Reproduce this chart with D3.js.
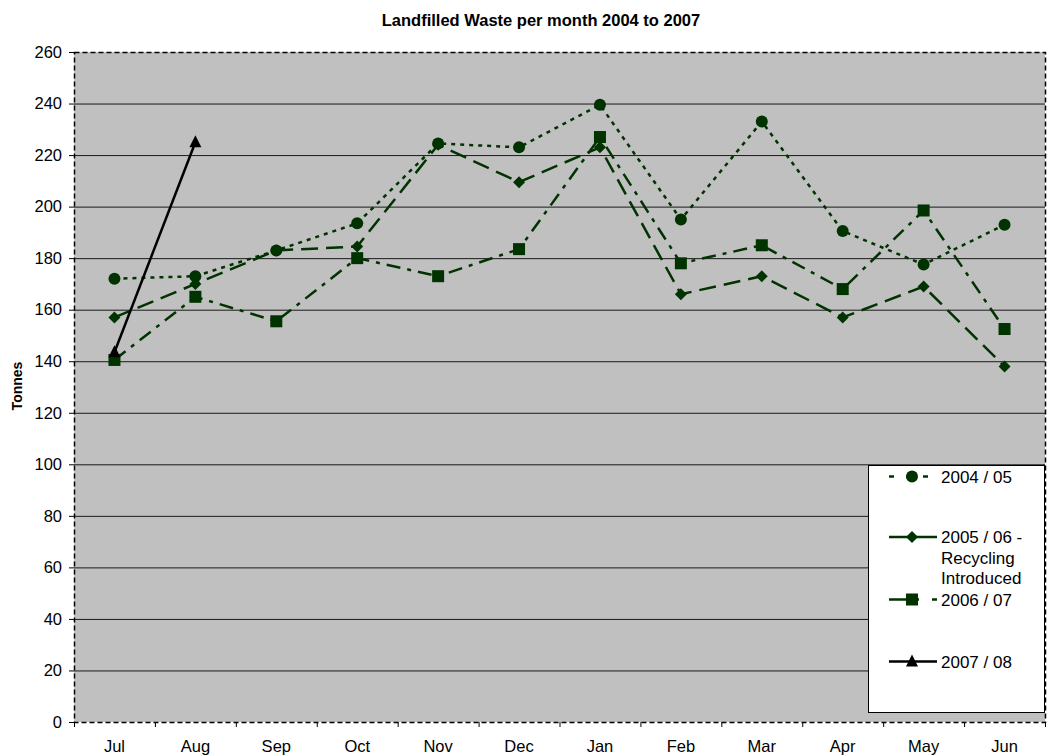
<!DOCTYPE html>
<html lang="en">
<head>
    <meta charset="utf-8">
    <title>Landfilled Waste per month 2004 to 2007</title>
    <script src="https://d3js.org/d3.v7.min.js"></script>
    <style>
        body { margin: 0; background: #fff; }
        text { font-family: "Liberation Sans", Arial, sans-serif; }
    </style>
</head>
<body>
    <svg id="chart" width="1051" height="756"></svg>
    <script>
        const months = ['Jul', 'Aug', 'Sep', 'Oct', 'Nov', 'Dec', 'Jan', 'Feb', 'Mar', 'Apr', 'May', 'Jun'];
        const yTicks = [0, 20, 40, 60, 80, 100, 120, 140, 160, 180, 200, 220, 240, 260];

        const waste0405 = [172, 173, 183, 193.5, 224.5, 223, 239.5, 195, 233, 190.5, 177.5, 193];
        const waste0506 = [157, 170, 183, 184.5, 224, 209.5, 223, 166, 173, 157, 169, 138];
        const waste0607 = [140.5, 165, 155.5, 180, 173, 183.5, 227, 178, 185, 168, 198.5, 152.5];
        const waste0708 = [143.5, 225];

        const seriesNames = [['2004 / 05'], ['2005 / 06 -', 'Recycling', 'Introduced'], ['2006 / 07'], ['2007 / 08']];

        const green = '#003300';
        const series = [
            { values: waste0405, color: green, dash: '4,5', legendDash: '5,12', marker: 'circle' },
            { values: waste0506, color: green, dash: '17,8', legendDash: null, marker: 'diamond' },
            { values: waste0607, color: green, dash: '14,7,4,7', legendDash: '30,13,6,20', marker: 'square' },
            { values: waste0708, color: '#000', dash: null, legendDash: null, marker: 'triangle' }
        ];

        const svg = d3.select('#chart');
        const plotLeft = 74, plotRight = 1045, plotTop = 52, plotBottom = 722;

        let x = d3.scaleBand().domain(months).range([plotLeft, plotRight]);
        let y = d3.scaleLinear().domain([0, 260]).range([plotBottom, plotTop]);

        // plot background
        svg.append('rect')
            .attr('x', plotLeft).attr('y', plotTop)
            .attr('width', plotRight - plotLeft).attr('height', plotBottom - plotTop)
            .attr('fill', '#c0c0c0');

        // gridlines
        svg.append('g')
            .selectAll('line')
            .data(yTicks.filter(d => d > 0 && d < 260))
            .enter()
            .append('line')
            .attr('x1', plotLeft).attr('x2', plotRight)
            .attr('y1', d => y(d) + 0.5).attr('y2', d => y(d) + 0.5)
            .attr('stroke', '#1a1a1a').attr('stroke-width', 1);

        // dashed plot border
        svg.append('rect')
            .attr('x', plotLeft + 0.5).attr('y', plotTop + 0.5)
            .attr('width', plotRight - plotLeft).attr('height', plotBottom - plotTop)
            .attr('fill', 'none').attr('stroke', '#000')
            .attr('stroke-width', 1.5).attr('stroke-dasharray', '5,3');

        // axes
        let yAxis = svg.append('g')
            .attr('transform', `translate(${plotLeft},0)`)
            .call(d3.axisLeft(y).tickValues(yTicks).tickSize(5).tickSizeOuter(0));
        yAxis.select('.domain').remove();
        yAxis.selectAll('text').attr('font-size', 16.5).attr('fill', '#000')
            .attr('font-family', '"Liberation Sans", Arial, sans-serif').attr('dx', -4);

        let xAxis = svg.append('g')
            .attr('transform', `translate(0,${plotBottom})`)
            .call(d3.axisBottom(x).tickSize(0));
        xAxis.select('.domain').remove();
        xAxis.selectAll('text').attr('font-size', 16.5).attr('fill', '#000')
            .attr('font-family', '"Liberation Sans", Arial, sans-serif')
            .attr('y', 30).attr('dy', 0);
        svg.append('g')
            .selectAll('line')
            .data(d3.range(months.length + 1))
            .enter()
            .append('line')
            .attr('x1', i => plotLeft + i * x.bandwidth() + 0.5)
            .attr('x2', i => plotLeft + i * x.bandwidth() + 0.5)
            .attr('y1', plotBottom).attr('y2', plotBottom + 5)
            .attr('stroke', '#000');

        // title and axis label
        svg.append('text')
            .attr('x', 541).attr('y', 26)
            .attr('text-anchor', 'middle')
            .attr('font-size', 16.5).attr('font-weight', 'bold')
            .text('Landfilled Waste per month 2004 to 2007');

        svg.append('text')
            .attr('transform', 'translate(22,386) rotate(-90)')
            .attr('text-anchor', 'middle')
            .attr('font-size', 14).attr('font-weight', 'bold')
            .text('Tonnes');

        function drawMarker(g, type, cx, cy, color) {
            if (type === 'circle') {
                g.append('circle').attr('cx', cx).attr('cy', cy).attr('r', 6).attr('fill', color);
            } else if (type === 'square') {
                g.append('rect').attr('x', cx - 6).attr('y', cy - 6)
                    .attr('width', 12).attr('height', 12).attr('fill', color);
            } else if (type === 'diamond') {
                g.append('path').attr('transform', `translate(${cx},${cy})`)
                    .attr('d', 'M0,-6L6,0L0,6L-6,0Z').attr('fill', color);
            } else if (type === 'triangle') {
                g.append('path').attr('transform', `translate(${cx},${cy})`)
                    .attr('d', 'M0,-7L6,5L-6,5Z').attr('fill', color);
            }
        }

        let line = d3.line()
            .x((d, i) => x(months[i]) + x.bandwidth() / 2)
            .y(d => y(d));

        for (let s of series) {
            let g = svg.append('g');
            g.append('path')
                .datum(s.values)
                .attr('fill', 'none')
                .attr('stroke', s.color)
                .attr('stroke-width', 2.5)
                .attr('stroke-dasharray', s.dash)
                .attr('d', line);
            s.values.forEach((v, i) => {
                drawMarker(g, s.marker, x(months[i]) + x.bandwidth() / 2, y(v), s.color);
            });
        }

        // legend
        let legend = svg.append('g');
        legend.append('rect')
            .attr('x', 868.5).attr('y', 465.5)
            .attr('width', 176).attr('height', 247)
            .attr('fill', '#fff').attr('stroke', '#000').attr('stroke-width', 1);

        const legendY = [476.5, 537, 599.5, 661.5];
        series.forEach((s, i) => {
            let ly = legendY[i];
            legend.append('line')
                .attr('x1', 889).attr('x2', 937)
                .attr('y1', ly).attr('y2', ly)
                .attr('stroke', s.color).attr('stroke-width', 2.5)
                .attr('stroke-dasharray', s.legendDash);
            drawMarker(legend, s.marker, 912, ly, s.color);
            seriesNames[i].forEach((t, j) => {
                legend.append('text')
                    .attr('x', 941).attr('y', ly + 6 + j * 20.5)
                    .attr('font-size', 17)
                    .text(t);
            });
        });
    </script>
</body>
</html>
